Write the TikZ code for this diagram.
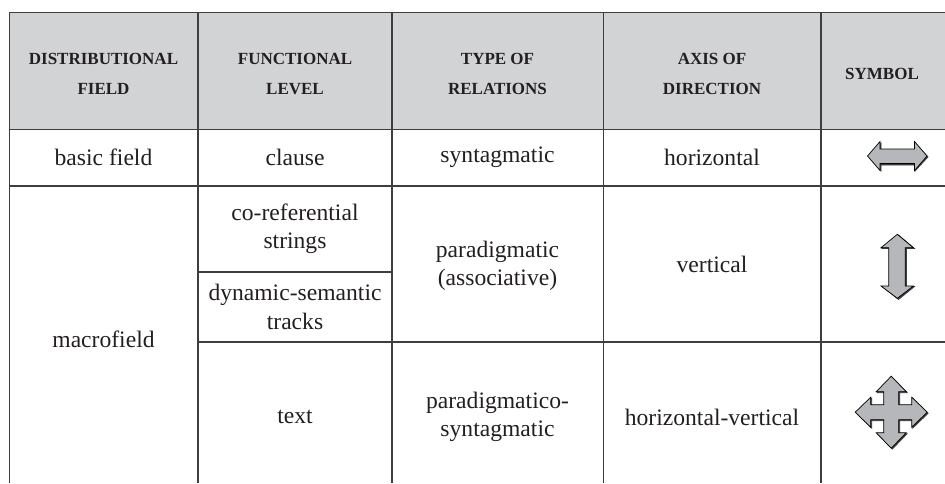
\documentclass[tikz,border=0pt]{standalone}
\usepackage{fontspec}
\setmainfont{Liberation Serif}
\usepackage{tikz}
\usetikzlibrary{positioning}
\definecolor{headgray}{RGB}{209,211,212}
\definecolor{rulegray}{RGB}{62,62,62}
\definecolor{arrowgray}{RGB}{182,183,186}
\definecolor{inkblack}{RGB}{35,31,32}
\tikzset{head/.style={font=\bfseries\fontsize{8.5}{15}\selectfont, align=center, text=inkblack},
cell/.style={font=\fontsize{11.8}{14.2}\selectfont, align=center, text=inkblack},
rule/.style={draw=rulegray, line width=0.9pt},
symb/.style={fill=arrowgray, draw=black, line width=0.35pt, line join=miter}}
\begin{document}
\begin{tikzpicture}[x=0.5pt,y=-0.5pt]%the distributional fields table
\useasboundingbox (0,0) rectangle (945,483);
%header row
\fill[headgray] (9.5,12.5) rectangle (945,129.5);
%rules
\draw[rule] (9.5,483)--(9.5,12.5)--(945,12.5); \draw[rule] (9.5,129.5)--(945,129.5); \draw[rule] (9.5,186)--(945,186);
\draw[rule] (198,272)--(392,272); \draw[rule] (198,342)--(945,342);
\foreach \x in {198,392,603.5,821} {\draw[rule] (\x,12.5)--(\x,483);}
%header texts
\node[head] (hfield) at (103.5,74) {DISTRIBUTIONAL\\FIELD};
\node[head] (hlevel) at (295,74) {FUNCTIONAL\\LEVEL};
\node[head] (hrel) at (497.5,74) {TYPE OF\\RELATIONS};
\node[head] (haxis) at (712,74) {AXIS OF\\DIRECTION};
\node[head] (hsym) at (882,74) {SYMBOL};
%basic field row
\node[cell] (basic) at (103.5,157) {basic field}; \node[cell] (clause) at (295,157) {clause};
\node[cell] (syn) at (497.5,157) {syntagmatic}; \node[cell] (hor) at (712,157) {horizontal};
\draw[symb, rulegray, fill=rulegray] (869,157)--(881,143)--(881,151)--(915,151)--(915,143)--(928,157)--(915,171)--(915,165)--(881,165)--(881,171)--cycle;
\draw[symb] (867.5,156)--(880,141.5)--(880,149)--(914.5,149)--(914.5,141.5)--(927,156)--(914.5,170.5)--(914.5,163.5)--(880,163.5)--(880,170.5)--cycle;
%macrofield rows
\node[cell] (macro) at (103.5,339) {macrofield};
\node[cell] (coref) at (295,229) {co-referential\\strings}; \node[cell] (dyn) at (295,307) {dynamic-semantic\\tracks};
\node[cell] (para) at (497.5,266) {paradigmatic\\(associative)}; \node[cell] (vert) at (712,264) {vertical};
\draw[symb, rulegray, fill=rulegray] (898.5,235)--(914.5,248.5)--(906.5,248.5)--(906.5,286.5)--(914.5,286.5)--(898.5,299.5)--(882,286.5)--(890,286.5)--(890,248.5)--(882,248.5)--cycle;
\draw[symb] (897.3,234.3)--(913.3,247.7)--(905.3,247.7)--(905.3,286)--(913.3,286)--(897.3,298.3)--(881,286)--(888.7,286)--(888.7,247.7)--(881,247.7)--cycle;
%text row
\node[cell] (txt) at (295,417) {text}; \node[cell] (parasyn) at (497.5,417) {paradigmatico-\\syntagmatic};
\node[cell] (horvert) at (712,417) {horizontal-vertical};
\begin{scope}[shift={(892.2,413.2)}]
\draw[symb, rulegray, fill=rulegray] (0,-36)--(15,-20.5)--(7.5,-20.5)--(7.5,-7.5)--(20.5,-7.5)--(20.5,-15)--(36,0)--(20.5,15)--(20.5,7.5)--(7.5,7.5)--(7.5,20.5)--(15,20.5)--(0,36)--(-15,20.5)--(-7.5,20.5)--(-7.5,7.5)--(-20.5,7.5)--(-20.5,15)--(-36,0)--(-20.5,-15)--(-20.5,-7.5)--(-7.5,-7.5)--(-7.5,-20.5)--(-15,-20.5)--cycle;
\end{scope}
\begin{scope}[shift={(891.2,412.2)}]
\draw[symb] (0,-36)--(15,-20.5)--(7.5,-20.5)--(7.5,-7.5)--(20.5,-7.5)--(20.5,-15)--(36,0)--(20.5,15)--(20.5,7.5)--(7.5,7.5)--(7.5,20.5)--(15,20.5)--(0,36)--(-15,20.5)--(-7.5,20.5)--(-7.5,7.5)--(-20.5,7.5)--(-20.5,15)--(-36,0)--(-20.5,-15)--(-20.5,-7.5)--(-7.5,-7.5)--(-7.5,-20.5)--(-15,-20.5)--cycle;
\end{scope}
\end{tikzpicture}
\end{document}
